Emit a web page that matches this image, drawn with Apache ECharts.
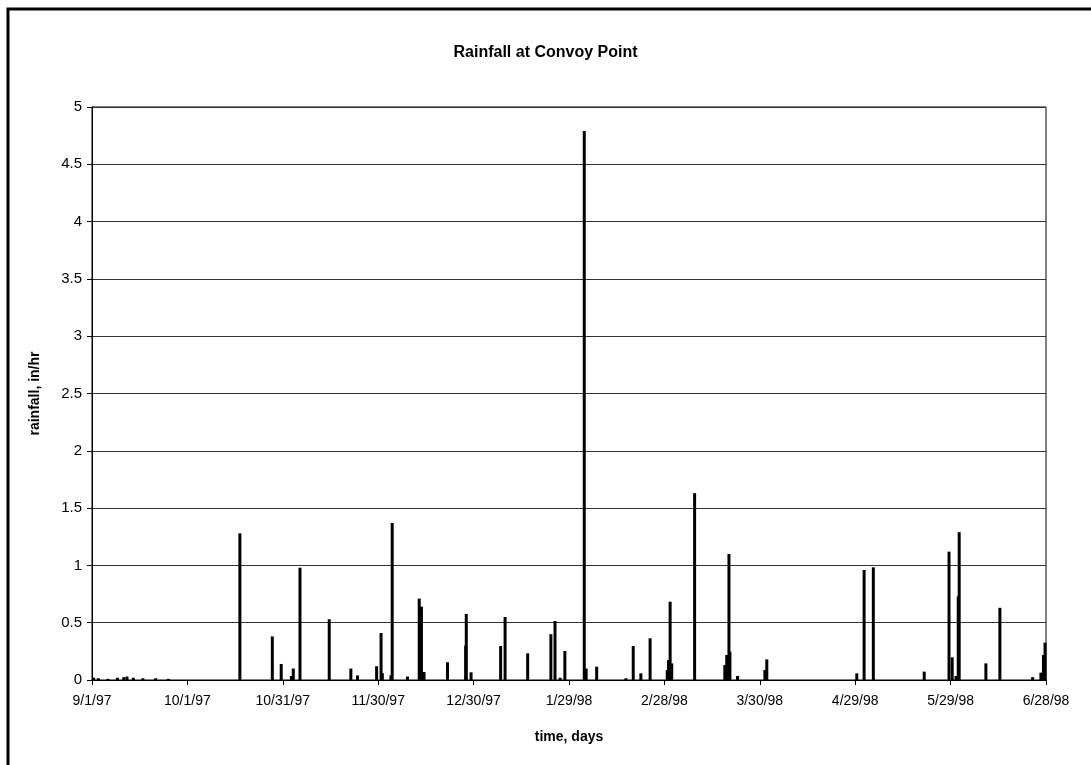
<!DOCTYPE html>
<html>
<head>
<meta charset="utf-8">
<title>Rainfall at Convoy Point</title>
<script src="https://cdn.jsdelivr.net/npm/echarts@6/dist/echarts.min.js"></script>
<style>
  html, body { margin: 0; padding: 0; background: #fff; }
  #chart { width: 1091px; height: 765px; }
</style>
</head>
<body>
<div id="chart"></div>
<script>
// x = days since 9/1/97, y = rainfall in in/hr
const dayLabels = ['9/1/97', '10/1/97', '10/31/97', '11/30/97', '12/30/97', '1/29/98',
  '2/28/98', '3/30/98', '4/29/98', '5/29/98', '6/28/98']
const eventDays = [
  0.5, 2, 5, 8, 10, 11, 13, 16, 20, 24,
  46.5, 56.7, 59.5, 62.7, 63.3, 65.4, 74.6, 81.4, 83.5, 89.5, 90.9, 91.3, 94.0, 94.4,
  99.2, 102.9, 103.6, 104.4, 111.8, 117.5, 117.7, 119.2, 128.5, 129.9, 137, 144.3, 145.6, 147.2, 148.7,
  154.8, 155.4, 158.7, 167.9, 170.2, 172.6, 175.5, 180.9, 181.3, 181.8, 182.3, 189.5,
  199, 199.6, 200.3, 200.6, 203, 211.6, 212.2, 240.5, 242.8, 245.7, 261.7,
  269.5, 270.5, 271.7, 272.4, 272.7, 281.1, 285.5, 295.8, 298.4, 299.2, 299.7
]
const rainfall = [
  0.02, 0.015, 0.01, 0.02, 0.025, 0.03, 0.02, 0.015, 0.015, 0.01,
  1.28, 0.38, 0.14, 0.035, 0.1, 0.98, 0.53, 0.1, 0.04, 0.12, 0.41, 0.06, 0.04, 1.37,
  0.03, 0.71, 0.64, 0.07, 0.155, 0.3, 0.576, 0.067, 0.297, 0.55, 0.233, 0.4, 0.515, 0.02, 0.253,
  4.79, 0.1, 0.116, 0.015, 0.297, 0.058, 0.364, 0.087, 0.174, 0.683, 0.145, 1.63,
  0.13, 0.218, 1.1, 0.247, 0.035, 0.087, 0.18, 0.058, 0.96, 0.983, 0.073,
  1.12, 0.198, 0.035, 0.73, 1.29, 0.145, 0.63, 0.025, 0.064, 0.218, 0.326
]

const chart = echarts.init(document.getElementById('chart'))
const font = 'Liberation Sans, Arial, sans-serif'

chart.setOption({
  animation: false,
  backgroundColor: '#fff',
  title: {
    text: 'Rainfall at Convoy Point',
    left: 'center',
    top: 40,
    textStyle: { fontFamily: font, fontSize: 16, fontWeight: 'bold', color: '#000' }
  },
  grid: {
    left: 92, right: 45, top: 107, bottom: 85,
    show: true, borderColor: '#000', borderWidth: 1, backgroundColor: 'transparent'
  },
  xAxis: {
    type: 'value',
    min: 0,
    max: 300,
    interval: 30,
    name: 'time, days',
    nameLocation: 'middle',
    nameGap: 50,
    nameTextStyle: { fontFamily: font, fontSize: 14, fontWeight: 'bold', color: '#000' },
    axisLine: { show: true, lineStyle: { color: '#000', width: 1 } },
    axisTick: { show: true, length: 5, lineStyle: { color: '#000' } },
    axisLabel: {
      fontFamily: font, fontSize: 14, color: '#000', margin: 14,
      formatter: v => dayLabels[Math.round(v / 30)] || ''
    },
    splitLine: { show: false }
  },
  yAxis: {
    type: 'value',
    min: 0,
    max: 5,
    interval: 0.5,
    name: 'rainfall, in/hr',
    nameLocation: 'middle',
    nameGap: 50,
    nameRotate: 90,
    nameTextStyle: { fontFamily: font, fontSize: 14, fontWeight: 'bold', color: '#000' },
    axisLine: { show: true, lineStyle: { color: '#000', width: 1 } },
    axisTick: { show: true, length: 5, lineStyle: { color: '#000' } },
    axisLabel: { fontFamily: font, fontSize: 15, color: '#000', margin: 10 },
    splitLine: { show: true, lineStyle: { color: '#333', width: 1 } }
  },
  series: [{
    type: 'bar',
    barWidth: 3,
    itemStyle: { color: '#000' },
    data: eventDays.map((d, i) => [d, rainfall[i]])
  }],
  graphic: [{
    type: 'polyline',
    shape: { points: [[8, 765], [8, 9], [1091, 9]] },
    style: { stroke: '#000', lineWidth: 3, fill: null }
  }]
})
</script>
</body>
</html>
